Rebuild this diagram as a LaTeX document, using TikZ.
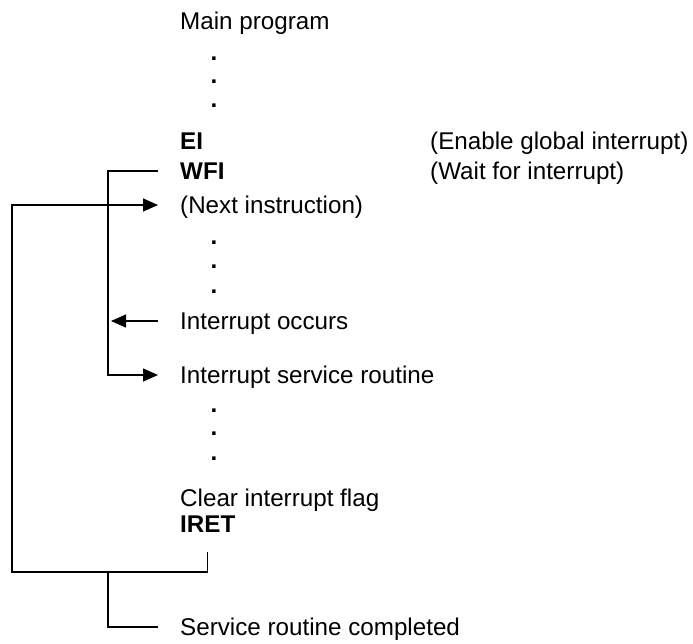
\documentclass[tikz,border=0pt]{standalone}
\usepackage{fontspec}
\setmainfont{Liberation Sans}
\usetikzlibrary{positioning, arrows.meta, calc}

\begin{document}
\begin{tikzpicture}[x=1pt, y=-1pt,
    every node/.style={font=\fontsize{24.2}{28}\selectfont},
    line/.style={anchor=west, inner xsep=22pt, inner ysep=0pt,
      text height=17.3pt, text depth=0pt},
    note/.style={anchor=west, inner sep=0pt,
      text height=17.3pt, text depth=0pt},
    dot/.style={anchor=base, inner sep=0pt, font=\fontsize{24.2}{28}\bfseries},
    wire/.style={line width=1.3pt},
    arr/.style={wire, -{Triangle[length=15pt, width=13pt]}}]

  \useasboundingbox (0,0) rectangle (693,644);

  % program listing
  \node[line] (main)  at (158,21)  {Main program};
  \node[line] (ei)    at (158,141) {\textbf{EI}};
  \node[line] (wfi)   at (158,171) {\textbf{WFI}};
  \node[line] (next)  at (158,205) {(Next instruction)};
  \node[line] (occurs) at (158,321) {Interrupt occurs};
  \node[line] (isr)   at (158,375) {Interrupt service routine};
  \node[line] (clear) at (158,498) {Clear interrupt flag};
  \node[line] (iret)  at (158,524) {\textbf{IRET}};
  \node[line] (done)  at (158,627) {Service routine completed};

  \node[note] (einote)  at (430,141) {(Enable global interrupt)};
  \node[note] (wfinote) at (430,171) {(Wait for interrupt)};

  % continuation dots
  \foreach \y [count=\i] in {61,84,108, 245,269,293, 412,435,460}
    \node[dot] (dot\i) at (214,\y) {.};

  \coordinate (innertop) at (108,171);
  \coordinate (outerfoot) at (12,572);
  \coordinate (midfoot) at (108,572);

  % wait / service path
  \draw[arr] (wfi.west) -- (innertop) |- (isr.west);
  \draw[arr, shorten >=3pt] (occurs.west) -- (occurs.west -| innertop);

  % return path
  \draw[arr] ([yshift=-19pt]iret.south) |- (outerfoot) |- (next.west);
  \draw[wire] (midfoot) |- (done.west);
\end{tikzpicture}
\end{document}
